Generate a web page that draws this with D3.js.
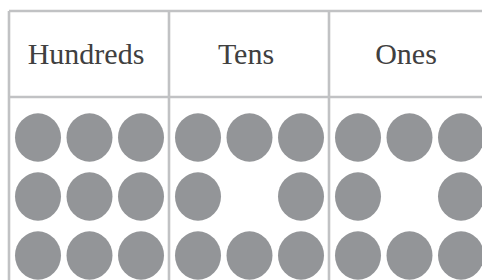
<!DOCTYPE html>
<html><head><meta charset="utf-8">
<script src="https://cdn.jsdelivr.net/npm/d3@7"></script>
<style>html,body{margin:0;padding:0;background:#fff;overflow:hidden}</style>
</head><body>
<svg id="c" width="482" height="280"></svg>
<script>
const columns = ["Hundreds", "Tens", "Ones"];
const counts = [9, 8, 8];
// 3x3 dot patterns per column (1 = dot present), row-major
const patterns = [
  [1,1,1, 1,1,1, 1,1,1],
  [1,1,1, 1,0,1, 1,1,1],
  [1,1,1, 1,0,1, 1,1,1]
];

const svg = d3.select("#c");
const x = d3.scaleBand().domain(columns).range([9, 489]);
const dx = d3.scalePoint().domain([0,1,2]).range([29, 132]);
const dy = d3.scalePoint().domain([0,1,2]).range([137.5, 255.5]);
const tableTop = 11, headBottom = 97, tableBottom = 300;
const lineColor = "#c1c2c4";

// dots
columns.forEach((col, ci) => {
  const dots = [];
  patterns[ci].forEach((v, i) => { if (v) dots.push({r: Math.floor(i/3), c: i%3}); });
  svg.append("g").selectAll("ellipse").data(dots).join("ellipse")
    .attr("cx", d => x(col) + dx(d.c))
    .attr("cy", d => dy(d.r))
    .attr("rx", 23).attr("ry", 24.2)
    .attr("fill", "#939598");
});

// grid lines
const g = svg.append("g").attr("stroke", lineColor).attr("stroke-width", 2.6).attr("fill", "none");
g.append("line").attr("x1", 9).attr("x2", 489).attr("y1", tableTop).attr("y2", tableTop);
g.append("line").attr("x1", 9).attr("x2", 489).attr("y1", headBottom).attr("y2", headBottom);
const edges = columns.map(c => x(c)).concat([x.range()[1]]);
g.selectAll(".v").data(edges).join("line")
  .attr("x1", d => d).attr("x2", d => d).attr("y1", tableTop).attr("y2", tableBottom);

// headers
svg.append("g").selectAll("text").data(columns).join("text")
  .attr("x", d => x(d) + x.bandwidth()/2 - 3)
  .attr("y", 64)
  .attr("text-anchor", "middle")
  .attr("font-family", "'Liberation Serif', 'Times New Roman', serif")
  .attr("font-size", 30)
  .attr("fill", "#404040")
  .text(d => d);
</script>
</body></html>
